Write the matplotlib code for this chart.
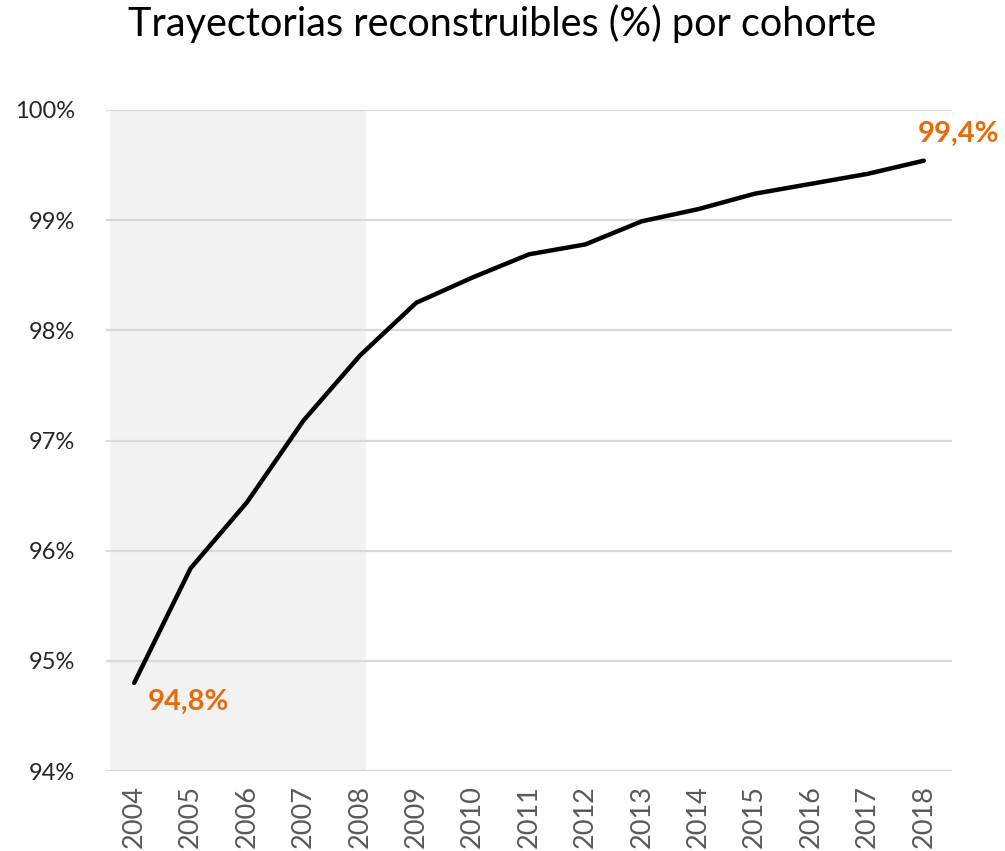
import matplotlib
matplotlib.use("Agg")
import matplotlib.pyplot as plt

years = ["2004", "2005", "2006", "2007", "2008", "2009", "2010", "2011",
         "2012", "2013", "2014", "2015", "2016", "2017", "2018"]
values = [94.80, 95.84, 96.44, 97.18, 97.77, 98.25, 98.48, 98.69,
          98.78, 98.99, 99.10, 99.24, 99.33, 99.42, 99.54]
first_label = "94,8%"
last_label = "99,4%"
y_ticks = [94, 95, 96, 97, 98, 99, 100]
title = "Trayectorias reconstruibles (%) por cohorte"

plt.rcParams['font.family'] = ['Lato', 'DejaVu Sans']

fig = plt.figure(figsize=(10.05, 8.51), dpi=100)
ax = fig.add_axes([106/1005, 1-771/851, (952-106)/1005, (771-110)/851])

x = list(range(len(years)))
ax.axvspan(-0.43, 4.11, color="#f2f2f2", zorder=0, lw=0)
for t in y_ticks:
    ax.axhline(t, color="#d9d9d9", lw=1.6, zorder=1)
ax.plot(x, values, color="black", lw=3.2, zorder=3, solid_capstyle="round")

ax.set_xlim(-0.5, len(years) - 0.5)
ax.set_ylim(94, 100)
ax.set_yticks(y_ticks)
ax.set_yticklabels([f"{t}%" for t in y_ticks], fontsize=17, color="#262626")
ax.set_xticks(x)
ax.set_xticklabels(years, rotation=90, fontsize=19.5, color="#595959")
ax.tick_params(length=0, pad=10)
ax.tick_params(axis="y", pad=22)
for s in ax.spines.values():
    s.set_visible(False)

orange = "#E46C0A"
ax.annotate(first_label, (x[0], values[0]), xytext=(10, -4), textcoords="offset points",
            ha="left", va="top", fontsize=21, fontweight="bold", color=orange)
ax.annotate(last_label, (x[-1], values[-1]), xytext=(-4, 10), textcoords="offset points",
            ha="left", va="bottom", fontsize=21, fontweight="bold", color=orange)

fig.text(0.5, 0.972, title, ha="center", va="center", fontsize=28.5, color="black")

fig.savefig("out.png", dpi=100, facecolor="white")
